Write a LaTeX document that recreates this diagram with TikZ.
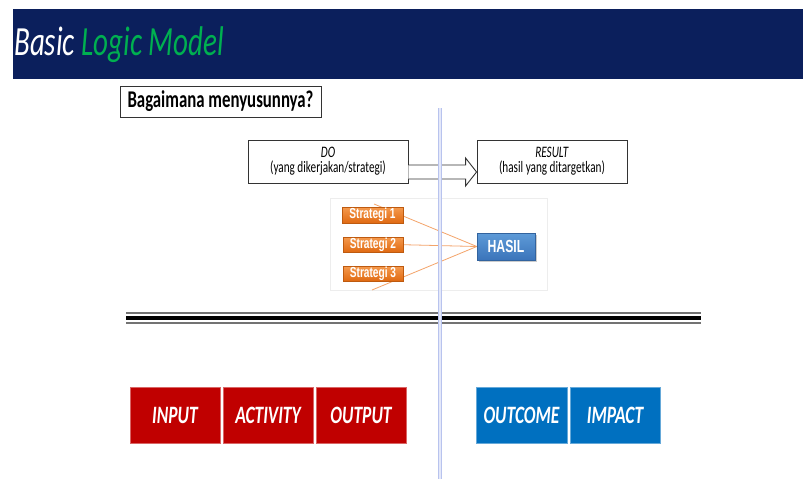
\documentclass[tikz,border=0pt]{standalone}
\usepackage{fontspec}
\setmainfont{Carlito}
\newfontfamily\arialf{Liberation Sans}
\usetikzlibrary{shadows,calc}
\newcommand{\sqz}[1]{\scalebox{0.7}[1]{#1}}
\definecolor{navy}{HTML}{0B1F5C}
\definecolor{titlegreen}{HTML}{00B050}
\definecolor{boxred}{HTML}{C00000}
\definecolor{boxblue}{HTML}{0070C0}
\definecolor{orangetop}{HTML}{F59A4E}
\definecolor{orangebot}{HTML}{E06A12}
\definecolor{orangeline}{HTML}{F4A46A}
\definecolor{bluetop}{HTML}{5E9BD8}
\definecolor{bluebot}{HTML}{3B74BA}
\definecolor{lav}{HTML}{B8C3EE}
\definecolor{lavlight}{HTML}{E4E8F9}
\tikzset{
  framebox/.style={draw=black!80, line width=0.9pt, fill=white, inner sep=0pt},
  textbox/.style={framebox, minimum width=160pt, minimum height=43pt, align=center,
    font=\fontsize{16}{15}\selectfont},
  stratbox/.style={draw=orangebot!85!black, line width=0.4pt, top color=orangetop, bottom color=orangebot,
    text=white, font=\arialf\bfseries\fontsize{14.5}{14.5}\selectfont, inner sep=0pt,
    minimum width=60pt, minimum height=16pt,
    drop shadow={shadow xshift=1.2pt, shadow yshift=-1.2pt, opacity=0.35}},
  hasilbox/.style={draw=bluebot!85!black, line width=0.4pt, top color=bluetop, bottom color=bluebot,
    text=white, font=\arialf\bfseries\fontsize{17.5}{17.5}\selectfont, inner sep=0pt,
    minimum width=58pt, minimum height=27pt,
    drop shadow={shadow xshift=1.5pt, shadow yshift=-1.5pt, opacity=0.4}},
  redbox/.style={fill=boxred, draw=boxred!60!white, line width=0.5pt, text=white,
    font=\bfseries\itshape\fontsize{25}{25}\selectfont, minimum width=90pt, minimum height=56pt, inner sep=0pt},
  bluebox/.style={redbox, fill=boxblue, draw=boxblue!60!white},
  oline/.style={draw=orangeline, line width=0.8pt},
  hollow/.style={draw=black!80, line width=0.9pt, fill=white, line join=miter}
}
\begin{document}
\begin{tikzpicture}[x=1pt,y=-1pt]
\useasboundingbox (0,0) rectangle (805,479);
\fill[white] (0,0) rectangle (805,479);
% title bar
\fill[navy] (13,9) rectangle (803,79);
\node[anchor=base west, inner sep=0pt, text=white, font=\itshape\fontsize{41.5}{41.5}\selectfont] (title) at (14,55)
  {\sqz{Basic \textcolor{titlegreen}{Logic Model}}};
% question
\node[framebox, minimum width=201pt, minimum height=31pt, font=\bfseries\fontsize{24}{24}\selectfont] (q) at (220.5,101.5)
  {\sqz{Bagaimana menyusunnya?}};
% DO / RESULT
\node[textbox] (do) at (328,161.5) {\sqz{\textit{DO}}\\ \sqz{(yang dikerjakan/strategi)}};
\node[textbox, minimum width=150pt] (res) at (552,161.5) {\sqz{\textit{RESULT}}\\ \sqz{(hasil yang ditargetkan)}};
\draw[hollow] ($(do.east)+(0,3.5)$) -- ($(res.west)+(-11,3.5)$) -- ($(res.west)+(-11,-3.5)$)
  -- ($(res.west)+(0,10.5)$) -- ($(res.west)+(-11,24.5)$) -- ($(res.west)+(-11,17.5)$) -- ($(do.east)+(0,17.5)$);
% strategy panel
\draw[black!7, line width=0.6pt] (330,198) rectangle (547,290);
\node[hasilbox] (hasil) at (506,246.5) {\sqz{HASIL}};
\coordinate (c1) at (374,204);
\coordinate (c2) at (374,244);
\coordinate (c3) at (372,290);
\draw[oline] (hasil.west) -- (c1);
\draw[oline] (hasil.west) -- (c2);
\draw[oline] (hasil.west) -- (c3);
\node[stratbox, minimum width=61pt] (s1) at (372.5,215) {\sqz{Strategi 1}};
\node[stratbox, minimum height=15pt] (s2) at (373,244.5) {\sqz{Strategi 2}};
\node[stratbox, minimum height=15pt] (s3) at (373,273.5) {\sqz{Strategi 3}};
% triple line
\draw[black!55, line width=1.6pt] (126,313) -- (701,313);
\draw[black, line width=3.2pt] (126,318) -- (701,318);
\draw[black!55, line width=1.6pt] (126,323) -- (701,323);
% bottom boxes
\node[redbox] (input) at (175,415) {\sqz{INPUT}};
\node[redbox] (activity) at (268,415) {\sqz{ACTIVITY}};
\node[redbox] (output) at (361,415) {\sqz{OUTPUT}};
\node[bluebox, minimum width=91pt] (outcome) at (521.5,415) {\sqz{OUTCOME}};
\node[bluebox] (impact) at (615,415) {\sqz{IMPACT}};
% vertical divider
\draw[lavlight, line width=4.5pt] (440,108) -- (440,479);
\draw[lav, line width=1pt] (438.3,108) -- (438.3,479);
\draw[lav, line width=1pt] (441.7,108) -- (441.7,479);
\end{tikzpicture}
\end{document}
